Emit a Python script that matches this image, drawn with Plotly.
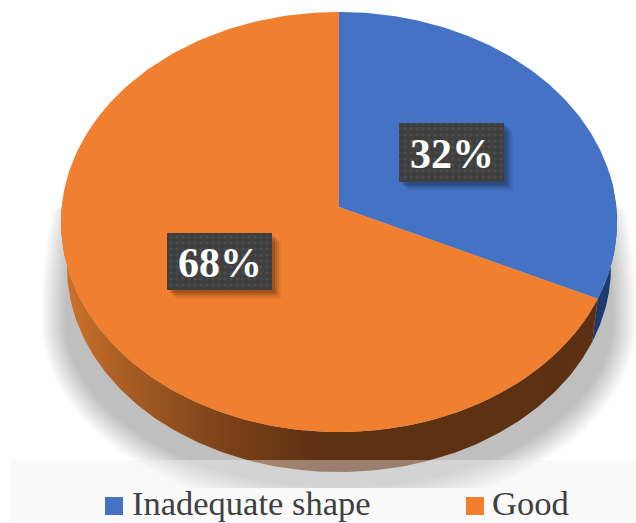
import numpy as np
import plotly.graph_objects as go

categories = ["Inadequate shape", "Good"]
shares = [32, 68]
slice_colors = ["#4472C4", "#F17F30"]
side_blue = "#1F3A6E"
label_texts = ["32%", "68%"]

# page geometry of the tilted disc (pixels)
CX, K = 339.0, 1 / 14
TOP = dict(y0=207.0, b=209.0, r=277.3)
BOT = dict(y0=252.4, b=204.0, r=271.3)


def rim(theta_deg, face):
    t = np.radians(theta_deg)
    u, v = np.sin(t), np.cos(t)
    d = 1 + K * v
    return CX + face["r"] * u / d, face["y0"] - face["b"] * v / d


def sector(a, b):
    th = np.linspace(a, b, 180)
    x, y = rim(th, TOP)
    return np.r_[CX, x, CX], np.r_[TOP["y0"], y, TOP["y0"]]


def side(a, b):
    th = np.linspace(a, b, 180)
    x1, y1 = rim(th, TOP)
    x2, y2 = rim(th[::-1], BOT)
    return np.r_[x1, x2, x1[0]], np.r_[y1, y2, y1[0]]


split = 360 * shares[0] / sum(shares)
fig = go.Figure()

# soft drop shadow
n = 16
for i in range(n):
    s = i / (n - 1)
    rx = 298 - 24 * s
    t = np.linspace(0, 2 * np.pi, 240)
    sx = CX + rx * np.cos(t)
    ry = np.where(np.sin(t) > 0, 194 - 26 * s, 400)
    sy = np.maximum(320 + ry * np.sin(t), 188 + 22 * (1 - s))
    fig.add_trace(go.Scatter(x=sx, y=sy, mode="lines", fill="toself", line_width=0,
                             fillcolor="rgba(0,0,0,0.0145)", hoverinfo="skip", showlegend=False))

# extruded wall
bx, by = side(80, split)
fig.add_trace(go.Scatter(x=bx, y=by, mode="lines", fill="toself", line_width=0,
                         fillcolor=side_blue, hoverinfo="skip", showlegend=False))
ox, oy = side(split, 272)
fig.add_trace(go.Scatter(x=ox, y=oy, mode="lines", fill="toself", line_width=0,
                         fillgradient=dict(type="horizontal", start=65, stop=600,
                                           colorscale=[[0, "#CC722A"], [0.12, "#A65C23"],
                                                       [0.3, "#7C4219"], [0.47, "#5E3112"],
                                                       [1, "#5C3012"]]),
                         hoverinfo="skip", showlegend=False))

# top faces
start = 0
for name, val, col in zip(categories, shares, slice_colors):
    end = start + 360 * val / sum(shares)
    x, y = sector(start, end)
    fig.add_trace(go.Scatter(x=x, y=y, mode="lines", fill="toself", line_width=0, fillcolor=col,
                             name=name, hovertemplate=f"{name}: {val}%<extra></extra>", showlegend=False))
    start = end

# data-label boxes
boxes = [(399, 504, 123, 182), (167, 272, 233, 290)]
for (x0, x1, y0, y1), txt in zip(boxes, label_texts):
    for off, a in [(9, .05), (7, .08), (5, .12), (3, .14)]:
        fig.add_trace(go.Scatter(x=[x0 + off, x1 + off, x1 + off, x0 + off, x0 + off],
                                 y=[y0 + off, y0 + off, y1 + off, y1 + off, y0 + off],
                                 mode="lines", fill="toself", line_width=0,
                                 fillcolor=f"rgba(0,0,0,{a})", hoverinfo="skip", showlegend=False))
    fig.add_trace(go.Scatter(x=[x0, x1, x1, x0, x0], y=[y0, y0, y1, y1, y0], mode="lines",
                             fill="toself", line_width=0, hoverinfo="skip", showlegend=False,
                             fillcolor="#3F3F3F",
                             fillpattern=dict(shape=".", size=6, solidity=0.25,
                                              fgcolor="#585858", bgcolor="#3F3F3F")))
    fig.add_annotation(x=(x0 + x1) / 2, y=(y0 + y1) / 2 + 1, text=f"<b>{txt}</b>", showarrow=False,
                       font=dict(family="Liberation Serif", size=42, color="white"))

shapes = [
    dict(type="rect", xref="x", yref="y", x0=10, x1=636, y0=460, y1=488, layer="above",
         line_width=0, fillcolor="rgba(240,240,240,0.41)"),
    dict(type="rect", xref="x", yref="y", x0=10, x1=636, y0=488, y1=523, layer="above",
         line_width=0, fillcolor="#FAFAFA"),
]

# legend row
legend_x = [(105, 123, 132), (466, 484, 492)]
for (a, b, tx), name, col in zip(legend_x, categories, slice_colors):
    shapes.append(dict(type="rect", xref="x", yref="y", x0=a, x1=b, y0=497, y1=515, layer="above",
                       line_width=0, fillcolor=col))
    fig.add_annotation(x=tx, y=503, xanchor="left", yanchor="middle", text=name, showarrow=False,
                       xshift=-2, font=dict(family="Liberation Serif", size=34.5, color="#404040"))

fig.update_layout(
    width=636, height=523, autosize=False, margin=dict(l=0, r=0, t=0, b=0),
    paper_bgcolor="white", plot_bgcolor="white", showlegend=False,
    xaxis=dict(range=[0, 636], visible=False, fixedrange=True),
    yaxis=dict(range=[523, 0], visible=False, fixedrange=True),
    shapes=shapes,
)
fig.write_html("out.html", config={"displayModeBar": False},
               post_script="document.body.style.margin='0'")
